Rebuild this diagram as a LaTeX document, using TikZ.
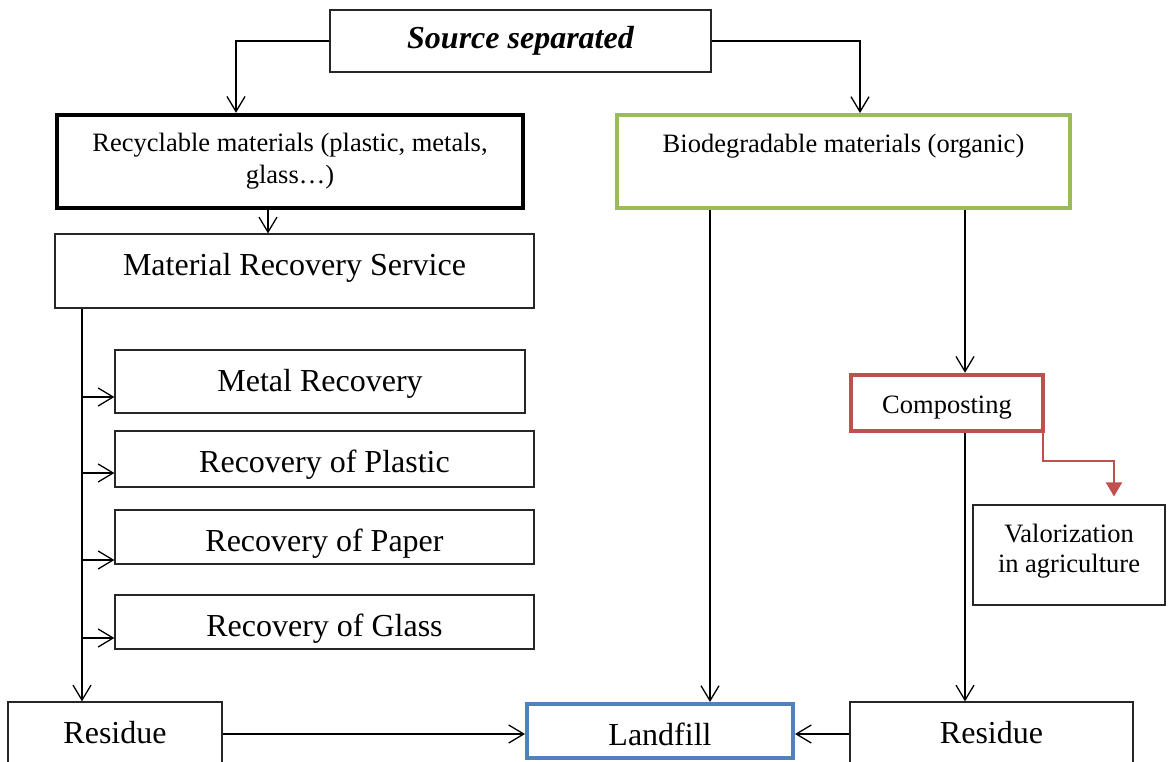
\documentclass[tikz,border=0pt]{standalone}
\usepackage{fontspec}
\setmainfont{Liberation Serif}
\usetikzlibrary{arrows.meta,calc}
\definecolor{cred}{HTML}{C0504D}
\definecolor{cgreen}{HTML}{9BBB59}
\definecolor{cblue}{HTML}{4F81BD}
\definecolor{cgray}{HTML}{262626}
\begin{document}
\begin{tikzpicture}[x=1pt,y=-1pt,
  box/.style={draw=cgray,line width=1.2pt,inner sep=0pt,align=center,font=\fontsize{32}{38}\selectfont},
  sbox/.style={box,font=\fontsize{26.5}{32}\selectfont},
  arr/.style={line width=1.4pt,-{Straight Barb[length=15pt,width=18pt,line width=1.3pt]}},
  redarr/.style={cred,line width=2pt,-{Triangle[length=14pt,width=16pt]}}]
\clip (0,0) rectangle (1168,761);
\fill[white] (0,0) rectangle (1168,761);
% nodes
\node[box,minimum width=381pt,minimum height=62pt,font=\fontsize{32}{38}\selectfont\bfseries\itshape] (src) at (520.5,41) {Source separated};
\node[sbox,draw=black,line width=4.5pt,minimum width=466pt,minimum height=93pt] (rec) at (290,161.5) {Recyclable materials (plastic, metals,\\glass\ldots)};
\node[sbox,draw=cgreen,line width=4pt,minimum width=453pt,minimum height=93pt] (bio) at (843.5,161.5) {Biodegradable materials (organic)\\[-6pt]\strut};
\node[box,minimum width=479pt,minimum height=74pt,text depth=13pt] (mrs) at (294.5,271) {Material Recovery Service};
\node[box,minimum width=410pt,minimum height=63pt,text height=26pt] (metal) at (320,381.5) {Metal Recovery};
\node[box,minimum width=419pt,minimum height=56pt,text height=34pt] (plastic) at (324.5,459) {Recovery of Plastic};
\node[box,minimum width=419pt,minimum height=54pt,text height=35pt] (paper) at (324.5,537) {Recovery of Paper};
\node[box,minimum width=419pt,minimum height=54pt,text height=35pt] (glass) at (324.5,622) {Recovery of Glass};
\node[box,minimum width=214pt,minimum height=62pt] (resL) at (115,733) {Residue};
\node[box,draw=cblue,line width=4pt,minimum width=266pt,minimum height=54pt,text height=30pt] (land) at (660,731) {Landfill};
\node[box,minimum width=283pt,minimum height=62pt] (resR) at (991.5,733) {Residue};
\node[sbox,draw=cred,line width=4.5pt,minimum width=192pt,minimum height=56pt,text height=26pt] (comp) at (947,403) {Composting};
\node[sbox,minimum width=192pt,minimum height=100pt,font=\fontsize{26.5}{30}\selectfont,text depth=14pt] (val) at (1069,555) {Valorization\\in agriculture};
% connectors
\draw[arr] (src.west) -| ([xshift=-54pt]rec.north);
\draw[arr] (src.east) -| ([xshift=16.5pt]bio.north);
\coordinate (r1) at ([xshift=-22pt]rec.south);
\draw[arr] (r1) -- (r1 |- mrs.north);
\coordinate (trunk) at ([xshift=-212.5pt]mrs.south);
\draw[arr] (trunk) -- (trunk |- resL.north);
\coordinate (m1) at ([yshift=-15.5pt]metal.west);
\coordinate (m2) at ([yshift=-14pt]plastic.west);
\coordinate (m3) at ([yshift=-23pt]paper.west);
\coordinate (m4) at ([yshift=-16pt]glass.west);
\foreach \m in {m1,m2,m3,m4} \draw[arr] (\m -| trunk) -- (\m);
\coordinate (lf) at ([yshift=-3pt]land.west);
\draw[arr] (lf -| resL.east) -- (lf);
\coordinate (rf) at ([yshift=-3pt]land.east);
\draw[arr] (rf -| resR.west) -- (rf);
\coordinate (b1) at ([xshift=-133.5pt]bio.south);
\draw[arr] (b1) -- (b1 |- land.north);
\coordinate (b2) at ([xshift=121.5pt]bio.south);
\draw[arr] (b2) -- (b2 |- comp.north);
\coordinate (c1) at ([xshift=18pt]comp.south);
\draw[arr] (c1) -- (c1 |- resR.north);
\draw[redarr,shorten >=8pt] ([xshift=-2pt]comp.south east) -- ++(0,28) -| ([xshift=45pt]val.north);
\end{tikzpicture}
\end{document}
